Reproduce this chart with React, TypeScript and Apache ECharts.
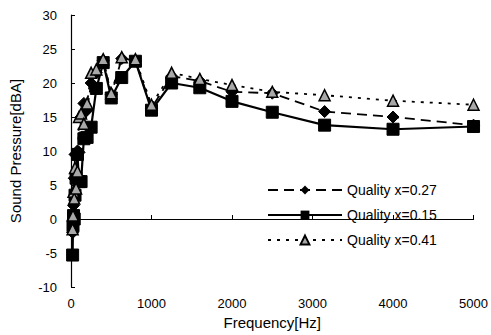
import React, { useEffect, useRef } from "react";
import * as echarts from "echarts";

const freqs = [20, 25, 31.5, 40, 50, 63, 80, 100, 125, 160, 200, 250, 315, 400, 500, 630, 800, 1000, 1250, 1600, 2000, 2500, 3150, 4000, 5000];
const q027 = [-2, 0, 2, 6, 9.5, 9.5, 10, 9.8, 15, 17, 16, 20, 21.5, 23.3, 18.3, 23.6, 23.3, 16.3, 21, 20.3, 18.7, 18.5, 15.8, 15, 13.8];
const q015 = [-5.3, -1, 0.5, 0, 3.5, 6, 9.5, 5.5, 5.5, 11.8, 12, 13.5, 19.2, 23, 17.8, 20.8, 23.2, 16, 20, 19.3, 17.3, 15.7, 13.8, 13.2, 13.6];
const q041 = [-1.5, 0.5, 4, 3, 7.5, 4.5, 7, 15, 15.5, 14, 17, 21.5, 22, 23.5, 18.5, 23.8, 23.5, 16.8, 21.5, 20.6, 19.7, 18.7, 18.2, 17.4, 16.8];
const seriesNames = ["Quality x=0.27", "Quality x=0.15", "Quality x=0.41"];
const xTicks = [0, 1000, 2000, 3000, 4000, 5000];
const yTicks = [-10, -5, 0, 5, 10, 15, 20, 25, 30];

const font = "'Liberation Sans', Arial, sans-serif";

export default function App() {
  const ref = useRef<HTMLDivElement>(null);
  useEffect(() => {
    const chart = echarts.init(ref.current!, null, { renderer: "svg" });
    const pair = (vals: number[]) => freqs.map((f, i) => [f, vals[i]]);
    chart.setOption({
      animation: false,
      backgroundColor: "#fff",
      textStyle: { fontFamily: font },
      grid: { left: 66, right: 17, top: 15, bottom: 48 },
      legend: {
        left: 262,
        top: 178,
        orient: "vertical",
        itemWidth: 74,
        itemHeight: 11,
        itemGap: 11,
        textStyle: { fontFamily: font, fontSize: 14, color: "#000" },
        data: seriesNames,
      },
      xAxis: {
        type: "value",
        min: xTicks[0],
        max: xTicks[xTicks.length - 1],
        interval: 1000,
        name: "Frequency[Hz]",
        nameLocation: "middle",
        nameGap: 27,
        nameTextStyle: { fontFamily: font, fontSize: 15, color: "#000" },
        axisLine: { lineStyle: { color: "#000", width: 1.2 } },
        axisTick: { inside: true, length: 4, lineStyle: { color: "#000" } },
        axisLabel: { fontFamily: font, fontSize: 13, color: "#000", margin: 10, formatter: (v: number) => String(v) },
        splitLine: { show: false },
      },
      yAxis: {
        type: "value",
        min: yTicks[0],
        max: yTicks[yTicks.length - 1],
        interval: 5,
        name: "Sound Pressure[dBA]",
        nameLocation: "middle",
        nameGap: 48,
        nameTextStyle: { fontFamily: font, fontSize: 15, color: "#000" },
        axisLine: { show: true, lineStyle: { color: "#000", width: 1.2 } },
        axisTick: { show: true, inside: true, length: 4, lineStyle: { color: "#000" } },
        axisLabel: { fontFamily: font, fontSize: 13, color: "#000", margin: 14, formatter: (v: number) => String(v) },
        splitLine: { show: false },
      },
      series: [
        {
          name: seriesNames[0],
          type: "line",
          data: pair(q027),
          symbol: "diamond",
          symbolSize: 12,
          itemStyle: { color: "#000", borderColor: "#000" },
          lineStyle: { color: "#000", width: 1.8, type: [10, 6] },
          z: 3,
        },
        {
          name: seriesNames[1],
          type: "line",
          data: pair(q015),
          symbol: "rect",
          symbolSize: 12,
          itemStyle: { color: "#000", borderColor: "#000" },
          lineStyle: { color: "#000", width: 2.2 },
          z: 2,
        },
        {
          name: seriesNames[2],
          type: "line",
          data: pair(q041),
          symbol: "triangle",
          symbolSize: 11,
          itemStyle: { color: "#a8a8a8", borderColor: "#000", borderWidth: 1.5 },
          lineStyle: { color: "#000", width: 1.8, type: [3, 6] },
          z: 4,
        },
      ],
    });
    return () => chart.dispose();
  }, []);
  return (
    <div
      ref={ref}
      style={{ position: "fixed", left: 0, top: 0, width: 491, height: 335 }}
    />
  );
}
